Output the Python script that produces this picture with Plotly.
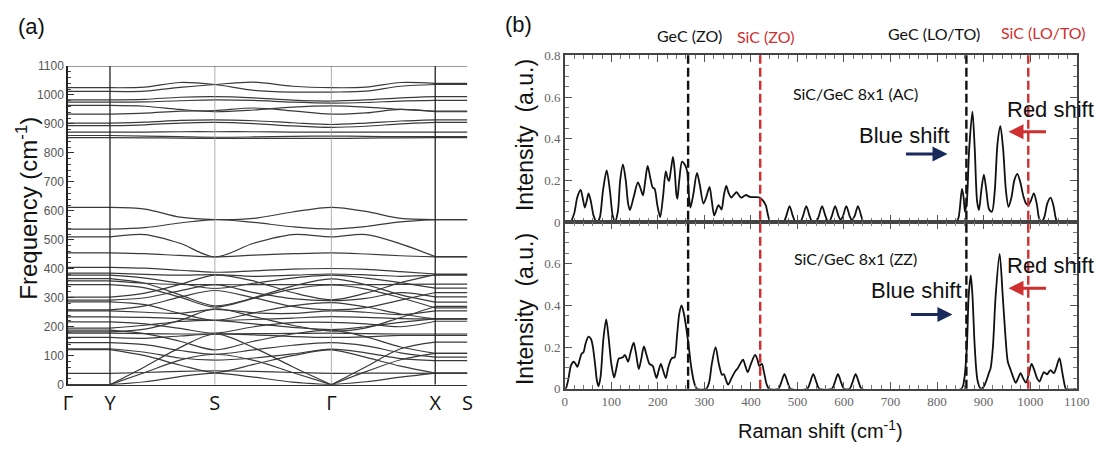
import plotly.graph_objects as go

W, H = 1112, 450

# ---------------- panel (a): phonon dispersion ----------------
k_labels = ["Γ", "Y", "S", "Γ", "X", "S"]
k_pos = [0, 42.7, 149.3, 267.7, 373.3, 406.0]

# band frequencies (cm^-1) at Y, 1/3, 2/3, S, 1/3, 2/3, Γ, 1/3, 2/3, X
bands_high = [
    [1025, 1027, 1043, 1036, 1016, 1010, 1010, 1013, 1030, 1036],
    [1012, 1013, 1026, 1036, 1044, 1030, 1025, 1027, 1043, 1040],
    [983, 985, 992, 994, 990, 982, 979, 983, 990, 994],
    [975, 976, 980, 983, 981, 975, 972, 974, 979, 981],
    [964, 961, 950, 942, 948, 958, 962, 958, 950, 944],
    [934, 937, 944, 946, 955, 945, 934, 938, 950, 942],
    [903, 906, 912, 914, 911, 904, 898, 903, 910, 914],
    [894, 897, 903, 905, 901, 893, 888, 892, 900, 905],
    [872, 872, 873, 873, 873, 872, 872, 872, 872, 872],
    [860, 858, 856, 854, 855, 857, 858, 857, 856, 856],
    [853, 852, 851, 850, 850, 850, 850, 851, 852, 853],
]
bands_mid = [
    [612, 606, 578, 570, 574, 596, 612, 598, 574, 570],
    [537, 542, 558, 570, 560, 545, 537, 546, 562, 570],
    [510, 518, 488, 441, 488, 518, 510, 518, 486, 442],
    [455, 452, 446, 441, 447, 452, 455, 451, 445, 441],
]
bands_low = [
    [405, 402, 395, 388, 393, 399, 401, 398, 390, 382],
    [385, 381, 378, 380, 374, 378, 382, 379, 374, 378],
    [378, 368, 350, 332, 350, 368, 378, 368, 352, 333],
    [366, 350, 310, 272, 300, 340, 365, 345, 310, 285],
    [358, 350, 346, 345, 345, 345, 345, 345, 346, 347],
    [345, 334, 302, 268, 298, 330, 344, 330, 300, 265],
    [302, 316, 346, 378, 358, 318, 293, 316, 352, 380],
    [292, 300, 324, 345, 318, 297, 290, 298, 318, 303],
    [286, 276, 246, 222, 248, 272, 283, 268, 244, 227],
    [258, 272, 302, 325, 300, 270, 258, 266, 292, 318],
    [255, 250, 246, 260, 248, 246, 255, 250, 242, 255],
    [234, 232, 228, 222, 225, 230, 235, 232, 228, 227],
    [217, 210, 194, 178, 200, 214, 215, 210, 200, 219],
    [195, 205, 218, 222, 210, 198, 190, 200, 215, 227],
    [188, 176, 150, 120, 150, 175, 188, 165, 130, 108],
    [182, 192, 222, 262, 235, 205, 185, 196, 232, 270],
    [178, 176, 175, 175, 176, 177, 178, 176, 175, 175],
    [163, 160, 168, 175, 172, 166, 163, 165, 170, 170],
    [145, 138, 118, 105, 120, 136, 145, 134, 110, 95],
    [124, 112, 92, 85, 92, 106, 123, 110, 90, 83],
    [121, 100, 68, 42, 70, 100, 120, 94, 64, 40],
    [39, 42, 46, 48, 46, 42, 39, 40, 40, 39],
]
bands_acoustic = [
    [0, 10, 28, 40, 26, 9, 0, 10, 26, 40],
    [0, 42, 85, 105, 84, 42, 0, 45, 86, 108],
    [0, 62, 128, 175, 128, 62, 0, 62, 124, 147],
]

# ---------------- panel (b): Raman spectra ----------------
raman_x_ac = [0, 12, 20, 27, 34, 39, 43, 47, 51, 56, 62, 69, 75, 82, 90, 97, 103, 108, 114, 119, 125, 131, 136, 140,
              148, 157, 163, 168, 173, 178, 183, 189, 193, 199, 205, 211, 217, 221, 224, 228, 232.5, 236, 240, 242,
              246, 252, 258, 263, 267, 270, 276, 284, 290, 298, 304, 311, 316, 321, 326, 330, 334, 337, 342, 347,
              352, 358, 363, 369, 374, 379, 385, 390, 395, 400, 410, 418, 425, 432, 437, 442,
              470, 476, 483, 490, 496, 506, 512, 519, 526, 532, 540, 546, 553, 560, 566,
              568, 574, 581, 588, 593, 598, 605, 612, 617, 623, 630, 637, 643,
              840, 846, 853.5, 857, 860, 864, 869, 876, 881, 886, 890, 895, 900.6, 906, 912, 918, 924, 930, 936,
              942, 948, 953.5, 960, 966, 972.5, 979, 986, 991, 995.8, 1001, 1008, 1014, 1019, 1024, 1030, 1037,
              1044, 1050, 1055, 1059, 1100]
raman_y_ac = [0, 0, 0.04, 0.12, 0.154, 0.11, 0.07, 0.1, 0.138, 0.1, 0.03, 0, 0.02, 0.15, 0.248, 0.15, 0.03, 0.003,
              0.05, 0.2, 0.277, 0.2, 0.09, 0.058, 0.12, 0.19, 0.16, 0.128, 0.2, 0.27, 0.22, 0.166, 0.16, 0.08,
              0.024, 0.12, 0.243, 0.21, 0.197, 0.25, 0.313, 0.25, 0.13, 0.112, 0.2, 0.29, 0.275, 0.243, 0.12, 0.07,
              0.13, 0.236, 0.18, 0.089, 0.12, 0.169, 0.1, 0.032, 0.06, 0.081, 0.07, 0.06, 0.13, 0.174, 0.14, 0.117,
              0.13, 0.143, 0.13, 0.117, 0.125, 0.13, 0.123, 0.12, 0.12, 0.118, 0.105, 0.08, 0.03, 0,
              0, 0.03, 0.077, 0.03, 0, 0, 0.03, 0.077, 0.03, 0, 0, 0.03, 0.077, 0.03, 0,
              0, 0.03, 0.077, 0.03, 0.01, 0.03, 0.077, 0.03, 0.01, 0.03, 0.077, 0.03, 0,
              0, 0.02, 0.159, 0.12, 0.05, 0.1, 0.35, 0.53, 0.35, 0.1, 0.058, 0.15, 0.228, 0.15, 0.06, 0.05, 0.15,
              0.38, 0.46, 0.35, 0.15, 0.073, 0.12, 0.2, 0.231, 0.19, 0.12, 0.09, 0.081, 0.1, 0.138, 0.09, 0.02, 0,
              0.02, 0.09, 0.117, 0.08, 0.02, 0, 0]

raman_x_zz = [0, 2, 8, 13, 19, 23, 27, 32, 36, 40, 45, 51, 56, 60, 65, 69, 72.5, 77, 83, 89, 94, 100, 106, 111, 116,
              121, 125, 129, 132, 136, 142, 148, 153, 159, 164, 170, 176, 182, 189, 193, 197, 202, 206.5, 211, 217,
              222, 228, 232, 236, 241, 246, 251, 256, 261.5, 266, 272, 278, 284, 304, 310, 316, 324, 331, 338, 342,
              346, 351, 358, 365, 372, 377, 383, 388, 393, 400, 409, 414, 418, 423.5, 428, 434, 439,
              459, 465, 472, 479, 485, 521, 527, 534, 541, 547, 574, 580, 587, 594, 600, 612, 618, 625, 632, 638,
              852, 858, 864, 868, 872.5, 876, 881, 887, 894, 900, 906, 912, 915, 920, 926, 934.5, 941, 947, 952,
              957, 963, 969, 974, 979.5, 985, 991, 997, 1003, 1009, 1015, 1020.5, 1025, 1029.6, 1033, 1036.6, 1040,
              1044, 1048, 1051, 1056, 1063, 1069, 1074, 1077, 1100]
raman_y_zz = [0, 0, 0.05, 0.11, 0.13, 0.12, 0.106, 0.14, 0.168, 0.175, 0.22, 0.25, 0.24, 0.206, 0.12, 0.04, 0.013,
              0.06, 0.24, 0.333, 0.25, 0.12, 0.055, 0.1, 0.145, 0.148, 0.152, 0.163, 0.15, 0.13, 0.18, 0.222, 0.17,
              0.095, 0.14, 0.203, 0.16, 0.12, 0.11, 0.08, 0.052, 0.09, 0.12, 0.09, 0.052, 0.1, 0.14, 0.15, 0.15,
              0.25, 0.36, 0.40, 0.36, 0.284, 0.21, 0.1, 0.03, 0, 0, 0.03, 0.12, 0.2, 0.12, 0.067, 0.07, 0.045, 0.02,
              0.05, 0.08, 0.1, 0.12, 0.14, 0.11, 0.08, 0.12, 0.163, 0.14, 0.11, 0.12, 0.08, 0.02, 0,
              0, 0.03, 0.07, 0.03, 0, 0, 0.03, 0.07, 0.03, 0, 0, 0.03, 0.07, 0.03, 0, 0, 0.03, 0.07, 0.03, 0,
              0, 0.04, 0.2, 0.45, 0.544, 0.45, 0.2, 0.04, 0, 0.01, 0.04, 0.08, 0.098, 0.2, 0.45, 0.647, 0.45, 0.25,
              0.13, 0.098, 0.06, 0.029, 0.05, 0.075, 0.05, 0.03, 0.07, 0.12, 0.09, 0.05, 0.035, 0.06, 0.08, 0.075,
              0.07, 0.08, 0.09, 0.08, 0.075, 0.1, 0.147, 0.08, 0.02, 0, 0]

mode_freqs = [265, 420, 863, 996]           # GeC ZO, SiC ZO, GeC LO/TO, SiC LO/TO
mode_is_sic = [False, True, False, True]
intensity_ticks = [0, 0.2, 0.4, 0.6, 0.8]

# ---------------- styles ----------------
BAND = "#3a3a3a"
RED = "#cf2f2f"
NAVY = "#1b2a5c"


def px(x):
    return x / W


def py(y):
    return 1 - y / H


fig = go.Figure()


def seg(a, b):
    return [a, a + (b - a) / 3, a + 2 * (b - a) / 3]


k_grid = seg(k_pos[1], k_pos[2]) + seg(k_pos[2], k_pos[3]) + seg(k_pos[3], k_pos[4]) + [k_pos[4]]

for b in bands_high + bands_mid + bands_low:
    fig.add_trace(go.Scatter(x=k_grid, y=b, mode="lines", xaxis="x", yaxis="y",
                             line=dict(color=BAND, width=1.2, shape="spline", smoothing=0.9),
                             hoverinfo="skip", showlegend=False))
for b in bands_acoustic:
    fig.add_trace(go.Scatter(x=k_grid[:7], y=b[:7], mode="lines", xaxis="x", yaxis="y",
                             line=dict(color=BAND, width=1.2, shape="spline", smoothing=0.9),
                             hoverinfo="skip", showlegend=False))
    fig.add_trace(go.Scatter(x=k_grid[6:], y=b[6:], mode="lines", xaxis="x", yaxis="y",
                             line=dict(color=BAND, width=1.2, shape="spline", smoothing=0.9),
                             hoverinfo="skip", showlegend=False))

# flat segments Γ-Y and X-S
fx, fy = [], []
for b in bands_high + bands_mid + bands_low + bands_acoustic:
    fx += [k_pos[0], k_pos[1], None, k_pos[4], k_pos[5], None]
    fy += [b[0], b[0], None, b[-1], b[-1], None]
fig.add_trace(go.Scatter(x=fx, y=fy, mode="lines", xaxis="x", yaxis="y",
                         line=dict(color=BAND, width=1.2), hoverinfo="skip", showlegend=False))

# Raman spectra
fig.add_trace(go.Scatter(x=raman_x_ac, y=raman_y_ac, mode="lines", xaxis="x2", yaxis="y2",
                         line=dict(color="#111", width=1.8, shape="spline", smoothing=0.8),
                         hoverinfo="skip", showlegend=False))
fig.add_trace(go.Scatter(x=raman_x_zz, y=raman_y_zz, mode="lines", xaxis="x3", yaxis="y3",
                         line=dict(color="#111", width=1.8, shape="spline", smoothing=0.8),
                         hoverinfo="skip", showlegend=False))

shapes = []
for i, k in enumerate(k_pos[1:5]):
    dark = i in (0, 3)
    shapes.append(dict(type="line", xref="x", yref="y", x0=k, x1=k, y0=0, y1=1100,
                       line=dict(color="#222" if dark else "#9a9a9a", width=1.3 if dark else 0.8)))
shapes.append(dict(type="line", xref="x", yref="y", x0=k_pos[0], x1=k_pos[5], y0=1100, y1=1100,
                   line=dict(color="#333", width=1.3)))
for f, sic in zip(mode_freqs, mode_is_sic):
    shapes.append(dict(type="line", xref="x2", yref="paper", x0=f, x1=f, y0=py(395), y1=py(50),
                       line=dict(color=RED if sic else "#111", width=2.4, dash="9px,4px")))

axis_b = dict(range=[0, 1100], dtick=100, tick0=0, ticks="inside", ticklen=7, tickwidth=1,
              tickcolor="#555", showline=True, linecolor="#444", linewidth=1.5, mirror="allticks",
              showgrid=False, zeroline=False,
              minor=dict(dtick=20, tick0=0, ticks="inside", ticklen=4, tickcolor="#777"),
              tickfont=dict(family="Liberation Serif", size=13, color="#666"))
yaxis_b = dict(range=[0, 0.8], ticks="inside", ticklen=7, tickcolor="#555", showline=True,
               linecolor="#444", linewidth=1.5, mirror="allticks", showgrid=False, zeroline=False,
               minor=dict(dtick=0.05, tick0=0, ticks="inside", ticklen=4, tickcolor="#777"),
               tickfont=dict(family="Liberation Serif", size=13, color="#666"))

fig.update_layout(
    width=W, height=H, margin=dict(l=0, r=0, t=0, b=0),
    paper_bgcolor="white", plot_bgcolor="white",
    xaxis=dict(domain=[px(64), px(470)], range=[k_pos[0], k_pos[5]], tickvals=k_pos, ticktext=k_labels,
               ticks="", showline=True, linecolor="#333", linewidth=1.3, showgrid=False, zeroline=False,
               tickfont=dict(family="Open Sans", size=20, color="#111"), anchor="y"),
    yaxis=dict(domain=[py(390.7), py(61)], range=[0, 1100], dtick=100, tick0=0, ticks="inside", ticklen=6,
               tickcolor="#333", showline=True, linecolor="#222", linewidth=1.5, showgrid=False,
               zeroline=False, anchor="x",
               minor=dict(dtick=20, tick0=0, ticks="inside", ticklen=3, tickcolor="#444"),
               tickfont=dict(family="Liberation Sans", size=12, color="#555")),
    xaxis2=dict(domain=[px(569), px(1089.3)], anchor="y2", showticklabels=False, **axis_b),
    yaxis2=dict(domain=[py(222.5), py(50)], anchor="x2", tickvals=intensity_ticks,
                ticktext=[f"{v:g}" for v in intensity_ticks], **yaxis_b),
    xaxis3=dict(domain=[px(569), px(1089.3)], anchor="y3", showticklabels=True, **axis_b),
    yaxis3=dict(domain=[py(395), py(222.5)], anchor="x3", tickvals=intensity_ticks[:4],
                ticktext=[f"{v:g}" for v in intensity_ticks[:4]], **yaxis_b),
    shapes=shapes,
)

ann = []


def text(x, y, s, size, color="#111", family="Liberation Sans", angle=0):
    ann.append(dict(x=px(x), y=py(y), xref="paper", yref="paper", text=s, showarrow=False,
                    xanchor="center", yanchor="middle", textangle=angle,
                    font=dict(family=family, size=size, color=color)))


def arrow(x_head, x_tail, y, color):
    ann.append(dict(x=px(x_head), y=py(y), xref="paper", yref="paper", ax=x_tail - x_head, ay=0,
                    text="", showarrow=True, arrowhead=2, arrowsize=1, arrowwidth=3, arrowcolor=color))


text(27, 20, "(a)", 22)
text(522, 18, "(b)", 22)
text(22, 208, "Frequency (cm<sup>-1</sup>)", 24, angle=-90)
text(528, 132, "Intensity  (a.u.)", 23, angle=-90)
text(528, 312, "Intensity  (a.u.)", 23, angle=-90)
text(829, 437, "Raman shift (cm<sup>-1</sup>)", 20)
text(696, 30, "GeC (ZO)", 16, family="Lato")
text(774, 31, "SiC (ZO)", 16, color=RED, family="Lato")
text(944, 27, "GeC (LO/TO)", 16, family="Lato")
text(1056, 26, "SiC (LO/TO)", 16, color=RED, family="Lato")
text(865, 90, "SiC/GeC 8x1 (AC)", 16, family="Lato")
text(865, 260, "SiC/GeC 8x1 (ZZ)", 16, family="Lato")
text(1063, 106, "Red shift", 22)
text(914, 133, "Blue shift", 22)
text(1063, 267, "Red shift", 22)
text(926, 293, "Blue shift", 22)
arrow(1020, 1059, 129, RED)
arrow(958, 915, 152, NAVY)
arrow(1020, 1059, 291, RED)
arrow(963, 920, 318, NAVY)

fig.update_layout(annotations=ann)
fig.write_html("out.html")
